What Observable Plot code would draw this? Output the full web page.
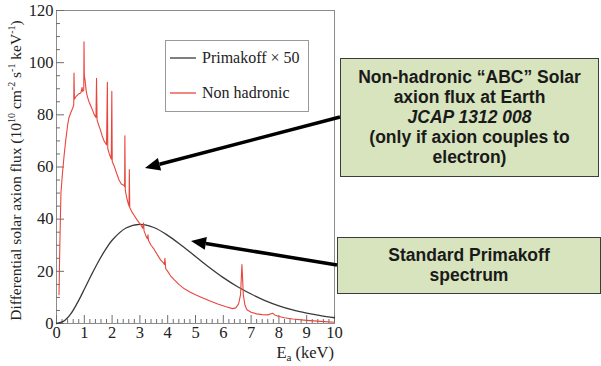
<!DOCTYPE html>
<html>
<head>
<meta charset="utf-8">
<script src="https://cdn.jsdelivr.net/npm/d3@7"></script>
<script src="https://cdn.jsdelivr.net/npm/@observablehq/plot@0.6"></script>
<style>
  html, body { margin: 0; padding: 0; background: #fff; }
  #wrap { position: relative; width: 601px; height: 366px; overflow: hidden; }
  .box { position: absolute; box-sizing: border-box; background: #d7e4bd; border: 1.5px solid #3c3c3c;
         font-family: "Liberation Sans", Arial, sans-serif; font-weight: bold; font-size: 17.5px;
         color: #1a1a1a; text-align: center; line-height: 20px; white-space: nowrap; }
</style>
</head>
<body>
<div id="wrap"></div>
<script>
// ---- data ----
const primE = [0, 0.25, 0.5, 0.75, 1, 1.25, 1.5, 1.75, 2, 2.5, 3, 3.5, 4, 4.5, 5, 5.5, 6, 6.5, 7, 7.5, 8, 8.5, 9, 9.5, 10];
const primV = [0, 0.8, 3.5, 7.9, 13.1, 18.5, 23.6, 28.1, 31.9, 36.6, 38, 36.8, 33.8, 29.9, 25.7, 21.5, 17.6, 14.2, 11.3, 8.8, 6.8, 5.2, 4.0, 3.0, 2.2];

const nhE = [0.09, 0.12, 0.16, 0.21, 0.27, 0.33, 0.40, 0.45, 0.52, 0.60, 0.62, 0.63, 0.645, 0.70, 0.80, 0.88, 0.92, 0.94, 0.98, 0.99, 1.00, 1.03, 1.07, 1.11, 1.17, 1.23, 1.29, 1.36, 1.42, 1.44, 1.46, 1.52, 1.57, 1.64, 1.71, 1.77, 1.80, 1.83, 1.845, 1.90, 1.97, 1.99, 2.005, 2.07, 2.15, 2.25, 2.33, 2.42, 2.45, 2.46, 2.475, 2.52, 2.58, 2.61, 2.62, 2.635, 2.70, 2.79, 2.88, 2.97, 3.05, 3.10, 3.13, 3.15, 3.22, 3.27, 3.29, 3.31, 3.40, 3.51, 3.63, 3.75, 3.85, 3.88, 3.90, 3.93, 4.0, 4.1, 4.23, 4.4, 4.6, 4.8, 5.0, 5.2, 5.5, 5.8, 6.1, 6.33, 6.45, 6.55, 6.62, 6.67, 6.72, 6.78, 6.85, 7.0, 7.2, 7.4, 7.6, 7.72, 7.78, 7.85, 8.0, 8.2, 8.5, 9.0, 9.5, 10.0];
const nhV = [11, 30, 50, 57, 64, 70, 76, 79, 81, 83, 84, 96, 86, 87, 88, 88.5, 90.5, 89, 89.5, 108, 95, 93, 89, 87, 85, 83.5, 82, 80, 79, 94, 78, 76, 74.5, 72, 70, 69, 68.5, 92.5, 67, 65, 63, 89, 62, 60.5, 58, 55, 53.5, 53, 52.5, 72, 51, 48.5, 46, 45, 59, 44.5, 43, 41.5, 40, 38.7, 37.5, 36.5, 38.5, 35.5, 33.5, 32.5, 34, 31.8, 30, 28.5, 26.3, 24.3, 23.2, 22.6, 25, 21, 20, 18.3, 16.8, 15, 13.3, 12.1, 11, 10.1, 8.7, 7.5, 6.4, 5.7, 6.0, 7.5, 11, 22.6, 11, 7, 5.3, 4.3, 3.7, 3.4, 3.3, 3.7, 3.9, 3.3, 2.7, 2.2, 1.7, 1.2, 0.8, 0.5];

const xMajor = [0, 1, 2, 3, 4, 5, 6, 7, 8, 9, 10];
const xMinor = d3.range(0, 50).map(i => i / 5).filter(v => Math.abs(v - Math.round(v)) > 1e-9);
const yMajor = [0, 20, 40, 60, 80, 100, 120];
const yMinor = d3.range(0, 121, 5).filter(v => v % 20 !== 0);

const legendLabels = ["Primakoff \u00d7 50", "Non hadronic"];
const box1Lines = ["Non-hadronic \u201cABC\u201d Solar", "axion flux at Earth", "JCAP 1312 008", "(only if axion couples to", "electron)"];
const box2Lines = ["Standard Primakoff", "spectrum"];

const prim = primE.map((e, i) => ({E: e, v: primV[i]}));
const nh = nhE.map((e, i) => ({E: e, v: nhV[i]}));

// ---- layout ----
const W = 601, H = 366, mL = 56, mR = 267, mT = 10, mB = 43;
const pw = W - mL - mR, ph = H - mT - mB;
const axisCol = "#6e6e6e";
const primCol = "#3a3a3a", nhCol = "#e8463c";

const chart = Plot.plot({
  width: W, height: H,
  marginLeft: mL, marginRight: mR, marginTop: mT, marginBottom: mB,
  style: {fontFamily: "'Liberation Serif', 'Times New Roman', serif", fontSize: "16.5px", color: "#222", background: "#fff"},
  x: {domain: [0, 10], label: null},
  y: {domain: [0, 120], label: null},
  marks: [
    Plot.frame({stroke: "#8c8c8c"}),
    Plot.tickX(xMajor, {x: d => d, insetTop: ph - 8, stroke: axisCol}),
    Plot.tickX(xMinor, {x: d => d, insetTop: ph - 4, stroke: axisCol}),
    Plot.tickY(yMajor, {y: d => d, insetRight: pw - 8, stroke: axisCol}),
    Plot.tickY(yMinor, {y: d => d, insetRight: pw - 4, stroke: axisCol}),
    Plot.axisX({ticks: xMajor, tickSize: 0, tickPadding: 3, tickFormat: d => d, label: null, fontSize: 16.5}),
    Plot.axisY({ticks: yMajor, tickSize: 0, tickPadding: 3, tickFormat: d => d, label: null, fontSize: 16.5}),
    Plot.line(prim, {x: "E", y: "v", curve: "catmull-rom", stroke: primCol, strokeWidth: 1.3}),
    Plot.line(nh, {x: "E", y: "v", stroke: nhCol, strokeWidth: 1.1})
  ]
});
const wrap = document.getElementById("wrap");
wrap.appendChild(chart);

const svg = d3.select(chart);
const serif = "'Liberation Serif', 'Times New Roman', serif";

// y-axis title with superscripts
const yt = svg.append("text")
  .attr("transform", `translate(21,${mT + ph / 2 + 4}) rotate(-90)`)
  .attr("text-anchor", "middle").attr("font-family", serif).attr("font-size", 15.5).attr("fill", "#222");
const parts = [["Differential solar axion flux (10", 0], ["10", 1], [" cm", 0], ["-2", 1], [" s", 0], ["-1", 1], [" keV", 0], ["-1", 1], [")", 0]];
parts.forEach(([t, sup], i) => {
  const ts = yt.append("tspan").text(t);
  if (sup) ts.attr("font-size", 10).attr("dy", -6);
  else ts.attr("dy", i === 0 ? 0 : 6);
});

// x-axis title
const xt = svg.append("text").attr("x", mL + pw).attr("y", 358)
  .attr("text-anchor", "end").attr("font-family", serif).attr("font-size", 16.5).attr("fill", "#222");
xt.append("tspan").text("E");
xt.append("tspan").text("a").attr("font-size", 11).attr("dy", 3);
xt.append("tspan").text(" (keV)").attr("dy", -3);

// legend
const lg = svg.append("g");
lg.append("rect").attr("x", 165.5).attr("y", 40.5).attr("width", 143).attr("height", 71)
  .attr("fill", "#fff").attr("stroke", "#999");
const legendColors = [primCol, nhCol];
legendLabels.forEach((lab, i) => {
  const cy = 58 + i * 35;
  lg.append("line").attr("x1", 170).attr("x2", 196).attr("y1", cy).attr("y2", cy)
    .attr("stroke", legendColors[i]).attr("stroke-width", 1.3);
  lg.append("text").attr("x", 202).attr("y", cy + 5).attr("text-anchor", "start")
    .attr("font-family", serif).attr("font-size", 16).attr("fill", "#222").text(lab);
});

// annotation boxes
function addBox(x, y, w, h, lines, italicIdx) {
  const d = document.createElement("div");
  d.className = "box";
  Object.assign(d.style, {left: x + "px", top: y + "px", width: w + "px", height: h + "px", paddingTop: ((h - lines.length * 20) / 2 - 1.5) + "px"});
  lines.forEach((l, i) => {
    const s = document.createElement("div");
    s.textContent = l;
    if (i === italicIdx) s.style.fontStyle = "italic";
    d.appendChild(s);
  });
  wrap.appendChild(d);
}
addBox(340, 58, 259, 119, box1Lines, 2);
addBox(337, 237, 264, 57, box2Lines, -1);

// arrows overlay
const ov = d3.select(wrap).append("svg").attr("width", W).attr("height", H)
  .style("position", "absolute").style("left", 0).style("top", 0).style("pointer-events", "none");
function arrow(x1, y1, x2, y2) {
  const a = Math.atan2(y2 - y1, x2 - x1), L = 15, hw = 6.5;
  const bx = x2 - L * Math.cos(a), by = y2 - L * Math.sin(a);
  ov.append("line").attr("x1", x1).attr("y1", y1).attr("x2", bx).attr("y2", by)
    .attr("stroke", "#000").attr("stroke-width", 3.5);
  const px = -Math.sin(a) * hw, py = Math.cos(a) * hw;
  ov.append("path").attr("d", `M${x2},${y2}L${bx + px},${by + py}L${bx - px},${by - py}Z`).attr("fill", "#000");
}
arrow(340, 117, 145, 168);
arrow(337, 265, 191, 241);
</script>
</body>
</html>
